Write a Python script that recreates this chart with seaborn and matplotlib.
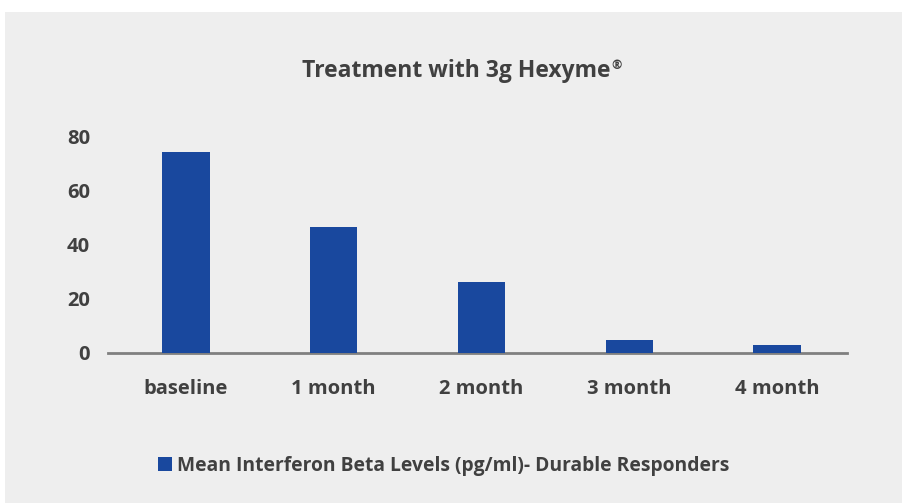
import pandas as pd
import matplotlib.pyplot as plt
import seaborn as sns
from matplotlib.patches import Rectangle

# data
months = ["baseline", "1 month", "2 month", "3 month", "4 month"]
levels = [74.5, 46.7, 26.3, 4.8, 3.0]
series_name = "Mean Interferon Beta Levels (pg/ml)- Durable Responders"

bar_color = "#19489E"
text_color = "#404040"

sns.set_theme(style="white")
plt.rcParams["font.family"] = ["Open Sans", "DejaVu Sans"]

df = pd.DataFrame({"month": months, "level": levels, "series": series_name})

fig = plt.figure(figsize=(9.03, 5.03), dpi=100, facecolor="white")
fig.patches.append(Rectangle((5 / 903, 0), 1, (503 - 12) / 503,
                             transform=fig.transFigure, facecolor="#EEEEEE",
                             edgecolor="none", zorder=-10))
ax = fig.add_axes([108 / 903, 1 - 353 / 503, (847 - 108) / 903, (353 - 137) / 503])
ax.set_facecolor("none")

sns.barplot(data=df, x="month", y="level", hue="series", palette=[bar_color],
            width=0.32, saturation=1, linewidth=0, edgecolor="none", ax=ax)

ax.set_ylim(0, 80)
ax.set_yticks([0, 20, 40, 60, 80])
# categories sit a few pixels right of the axis line centre in the original
ax.set_xlim(-0.527, 4.473)
ax.set_xlabel("")
ax.set_ylabel("")
for s in ["top", "right", "left"]:
    ax.spines[s].set_visible(False)
ax.spines["bottom"].set_color("#7F7F7F")
ax.spines["bottom"].set_linewidth(2)
ax.spines["bottom"].set_zorder(0)
ax.tick_params(axis="both", length=0, labelsize=14.5, labelcolor=text_color)
ax.tick_params(axis="x", pad=19)
ax.tick_params(axis="y", pad=13)
for lab in ax.get_xticklabels() + ax.get_yticklabels():
    lab.set_fontweight("bold")

# title, with a small raised registered sign
title = fig.text(456 / 903, 1 - 71 / 503, "Treatment with 3g Hexyme", ha="center",
                 va="center", fontsize=16.5, fontweight="bold", color=text_color)
fig.canvas.draw()
bb = title.get_window_extent().transformed(fig.transFigure.inverted())
fig.text(bb.x1 + 1 / 903, bb.y1, "\u00ae", ha="left", va="top",
         fontsize=9, fontweight="bold", color=text_color)

ax.legend(loc="center", bbox_to_anchor=(444 / 903, 1 - 466 / 503),
          bbox_transform=fig.transFigure, frameon=False,
          prop={"size": 13.9, "weight": "bold"}, labelcolor=text_color,
          handlelength=0.7, handleheight=0.7, handletextpad=0.3)

fig.savefig("out.png", dpi=100, facecolor="white")
